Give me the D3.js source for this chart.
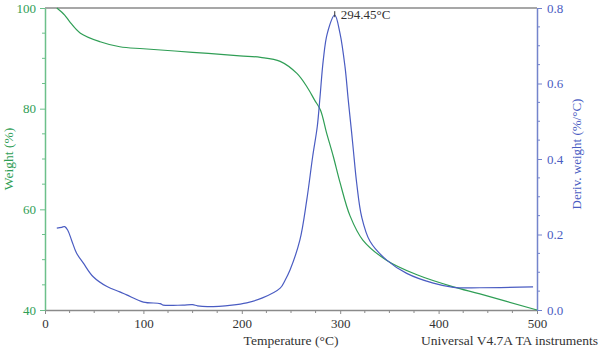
<!DOCTYPE html>
<html>
<head>
<meta charset="utf-8">
<script src="https://cdn.jsdelivr.net/npm/d3@7"></script>
<style>
  body { margin: 0; background: #fff; }
  svg { display: block; font-family: "Liberation Serif", "DejaVu Serif", serif; }
</style>
</head>
<body>
<svg id="chart" width="600" height="353"></svg>
<script>
// Weight loss curve (TGA)
const weightTemp = [12, 20, 25, 36, 56, 76, 100, 150, 198, 219, 239, 256, 266, 274, 280, 286, 293, 300, 310, 323, 347, 378, 415, 442, 500];
const weightPct  = [100, 98.6, 97.3, 95.0, 93.3, 92.3, 91.9, 91.2, 90.5, 90.2, 89.4, 87.0, 84.4, 81.7, 79.7, 75.3, 70.5, 65.2, 58.7, 53.9, 49.9, 47.0, 44.6, 43.2, 40.0];

// Derivative weight curve (DTG)
const derivTemp = [12, 17, 20, 23, 27, 32, 39, 49, 63, 76, 83, 100, 117, 120, 140, 150, 155, 165, 190, 205, 221, 239, 244, 249, 259, 266, 272, 276.7, 279.5, 282.8, 286.9, 294.45, 299.8, 304.9, 308.2, 311.7, 313.5, 316.8, 321.8, 330.3, 347.3, 367.6, 394.6, 415, 442, 496];
const derivVal  = [0.217, 0.219, 0.221, 0.212, 0.185, 0.151, 0.124, 0.088, 0.062, 0.048, 0.040, 0.021, 0.017, 0.013, 0.013, 0.014, 0.011, 0.009, 0.013, 0.019, 0.032, 0.058, 0.079, 0.106, 0.185, 0.291, 0.406, 0.486, 0.565, 0.662, 0.733, 0.781, 0.733, 0.644, 0.556, 0.468, 0.42, 0.335, 0.247, 0.182, 0.132, 0.097, 0.071, 0.060, 0.059, 0.061];

const xTicks = [0, 100, 200, 300, 400, 500];
const weightTicks = [40, 60, 80, 100];
const derivTicks = [0.0, 0.2, 0.4, 0.6, 0.8];

const green = '#2f9e55';
const greenAxis = '#6cc08a';
const blue = '#4a5cc2';
const blueAxis = '#7484cc';
const grey = '#8a8a8a';

const margin = {top: 8, right: 63, bottom: 43, left: 45};
const width = 600 - margin.left - margin.right;
const height = 353 - margin.top - margin.bottom;

const svg = d3.select('#chart');
const chart = svg.append('g')
    .attr('transform', `translate(${margin.left},${margin.top})`);

const x = d3.scaleLinear().domain([0, 500]).range([0, width]);
const yW = d3.scaleLinear().domain([40, 100]).range([height, 0]);
const yD = d3.scaleLinear().domain([0, 0.8]).range([height, 0]);

// minor ticks
const xMinor = d3.range(0, 501, 25).filter(v => v % 100 !== 0);
const wMinor = d3.range(40, 101, 5).filter(v => v % 20 !== 0);
const dMinor = d3.range(0, 0.801, 0.05).map(v => +v.toFixed(2)).filter(v => Math.round(v * 100) % 20 !== 0);

// bottom axis
const xAxisG = chart.append('g')
    .attr('transform', `translate(0,${height})`)
    .call(d3.axisBottom(x).tickValues(xTicks).tickSize(4).tickSizeOuter(0).tickPadding(5).tickFormat(d3.format('d')));
xAxisG.selectAll('line').attr('stroke', grey);
xAxisG.select('.domain').attr('stroke', grey).attr('stroke-width', 1.5);
xAxisG.selectAll('text').attr('fill', '#333').style('font-size', '13px').style('font-family', 'Liberation Serif');
xAxisG.selectAll('.minor').data(xMinor).join('line')
    .attr('x1', d => x(d)).attr('x2', d => x(d))
    .attr('y1', 0).attr('y2', 3)
    .attr('stroke', grey);

// top frame line
chart.append('line')
    .attr('x1', 0).attr('x2', width)
    .attr('y1', 0).attr('y2', 0)
    .attr('stroke', grey).attr('stroke-width', 1.5);

// left axis (weight)
const yWG = chart.append('g')
    .call(d3.axisLeft(yW).tickValues(weightTicks).tickSize(5).tickSizeOuter(0).tickPadding(4));
yWG.selectAll('line').attr('stroke', greenAxis);
yWG.select('.domain').attr('stroke', greenAxis).attr('stroke-width', 1.5);
yWG.selectAll('text').attr('fill', green).style('font-size', '13px').style('font-family', 'Liberation Serif');
yWG.selectAll('.minor').data(wMinor).join('line')
    .attr('x1', -3).attr('x2', 0)
    .attr('y1', d => yW(d)).attr('y2', d => yW(d))
    .attr('stroke', greenAxis);

// right axis (derivative)
const yDG = chart.append('g')
    .attr('transform', `translate(${width},0)`)
    .call(d3.axisRight(yD).tickValues(derivTicks).tickSize(5).tickSizeOuter(0).tickPadding(5).tickFormat(d3.format('.1f')));
yDG.selectAll('line').attr('stroke', blueAxis);
yDG.select('.domain').attr('stroke', blueAxis).attr('stroke-width', 1.5);
yDG.selectAll('text').attr('fill', blue).style('font-size', '13px').style('font-family', 'Liberation Serif');
yDG.selectAll('.minor').data(dMinor).join('line')
    .attr('x1', 0).attr('x2', 3)
    .attr('y1', d => yD(d)).attr('y2', d => yD(d))
    .attr('stroke', blueAxis);

// curves
const weightData = weightTemp.map((t, i) => ({t, v: weightPct[i]}));
const derivData = derivTemp.map((t, i) => ({t, v: derivVal[i]}));

chart.append('path')
    .datum(weightData)
    .attr('fill', 'none')
    .attr('stroke', green)
    .attr('stroke-width', 1.2)
    .attr('d', d3.line().x(d => x(d.t)).y(d => yW(d.v)).curve(d3.curveCatmullRom.alpha(0.5)));

chart.append('path')
    .datum(derivData)
    .attr('fill', 'none')
    .attr('stroke', blue)
    .attr('stroke-width', 1.2)
    .attr('d', d3.line().x(d => x(d.t)).y(d => yD(d.v)).curve(d3.curveCatmullRom.alpha(0.5)));

// peak annotation
const peak = derivData[d3.maxIndex(derivData, d => d.v)];
chart.append('line')
    .attr('x1', x(peak.t)).attr('x2', x(peak.t))
    .attr('y1', yD(peak.v) - 4).attr('y2', yD(peak.v) + 2)
    .attr('stroke', '#333');
chart.append('text')
    .attr('x', x(peak.t) + 6)
    .attr('y', yD(peak.v) + 4)
    .attr('fill', '#333')
    .style('font-size', '13px')
    .text(`${peak.t.toFixed(2)}°C`);

// axis titles
svg.append('text')
    .attr('transform', 'translate(13,159) rotate(-90)')
    .attr('text-anchor', 'middle')
    .attr('fill', green)
    .style('font-size', '13.5px')
    .text('Weight (%)');

svg.append('text')
    .attr('transform', 'translate(581,154) rotate(-90)')
    .attr('text-anchor', 'middle')
    .attr('fill', blue)
    .style('font-size', '13px')
    .text('Deriv. weight (%/°C)');

svg.append('text')
    .attr('x', 291)
    .attr('y', 345)
    .attr('text-anchor', 'middle')
    .attr('fill', '#333')
    .style('font-size', '13.5px')
    .text('Temperature (°C)');

svg.append('text')
    .attr('x', 598)
    .attr('y', 345)
    .attr('text-anchor', 'end')
    .attr('fill', '#333')
    .style('font-size', '13.5px')
    .text('Universal V4.7A TA instruments');
</script>
</body>
</html>
